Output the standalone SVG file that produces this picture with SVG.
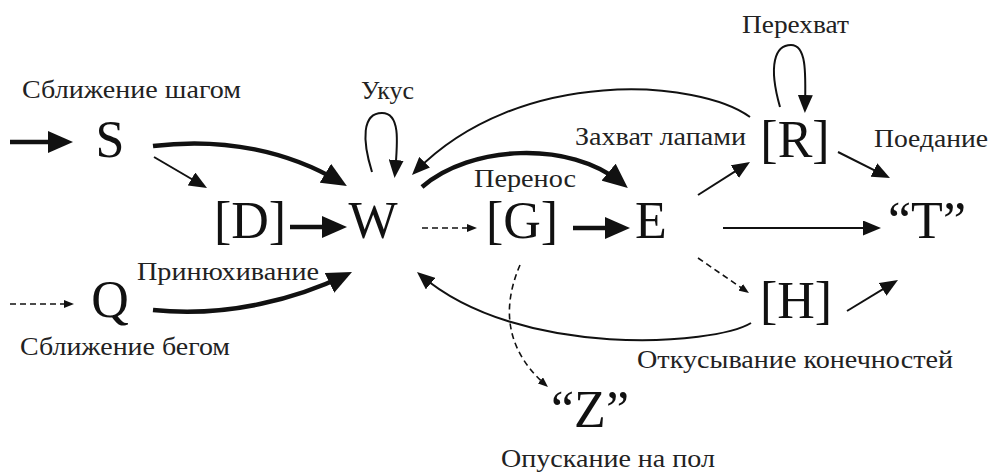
<svg xmlns="http://www.w3.org/2000/svg" width="990" height="473" viewBox="0 0 990 473">
<style>
.n{font-family:"Liberation Serif","Times New Roman",serif;font-size:52px;fill:#111;text-anchor:middle}
.l{font-family:"Liberation Serif","Times New Roman",serif;font-size:26px;fill:#222}
.thick{fill:none;stroke:#111;stroke-width:4.5}
.thin{fill:none;stroke:#111;stroke-width:2}
.dash{fill:none;stroke:#111;stroke-width:1.6;stroke-dasharray:6 4}
</style>
<defs>
<marker id="big" markerUnits="userSpaceOnUse" markerWidth="25" markerHeight="22" refX="17" refY="11" orient="auto"><path d="M0,0 L25,11 L0,22 z" fill="#111"/></marker>
<marker id="mid" markerUnits="userSpaceOnUse" markerWidth="18" markerHeight="15" refX="13" refY="7.5" orient="auto"><path d="M0,0 L18,7.5 L0,15 z" fill="#111"/></marker>
<marker id="small" markerUnits="userSpaceOnUse" markerWidth="10" markerHeight="8" refX="7" refY="4" orient="auto"><path d="M0,0 L10,4 L0,8 z" fill="#111"/></marker>
</defs>
<g id="connectors">
<path class="thick" d="M10,142 L65,142" marker-end="url(#big)"/>
<path class="thick" d="M153,146 C225,137 290,152 340,182" marker-end="url(#big)"/>
<path class="thin" d="M154,157 L202.7,185.5" marker-end="url(#mid)"/>
<path class="thick" d="M290,227 L339,227" marker-end="url(#big)"/>
<path class="thin" d="M372,172 C362,140 362,113 382,113 C400,113 398,140 395,173" marker-end="url(#mid)"/>
<path class="thin" d="M750,117 C700,80 520,65 415.5,171.4" marker-end="url(#mid)"/>
<path class="thick" d="M422,187 C470,145 570,140 621.7,183" marker-end="url(#big)"/>
<path class="dash" d="M422,228 L474,228" marker-end="url(#small)"/>
<path class="thick" d="M573,228 L622,228" marker-end="url(#big)"/>
<path class="thin" d="M698,195 L745.8,164.7" marker-end="url(#mid)"/>
<path class="thin" d="M780,107 C768,65 775,45 791,45 C806,45 806,70 805,108" marker-end="url(#mid)"/>
<path class="thin" d="M838,152 L885.5,175.8" marker-end="url(#mid)"/>
<path class="thin" d="M723,228 L876,228" marker-end="url(#mid)"/>
<path class="dash" d="M698,258 L746.5,291.3" marker-end="url(#small)"/>
<path class="thin" d="M847,311 L893.7,282.6" marker-end="url(#mid)"/>
<path class="thin" d="M751,323 C715,345 520,360 420.8,275.2" marker-end="url(#mid)"/>
<path class="dash" d="M520,265 C505,300 500,345 545.7,385" marker-end="url(#small)"/>
<path class="dash" d="M10,304 L71,304" marker-end="url(#small)"/>
<path class="thick" d="M153,310 C230,318 300,297 344.8,275.5" marker-end="url(#big)"/>
</g>
<g id="S"><text class="n" x="110" y="157">S</text></g>
<g id="D"><text class="n" x="250" y="238">[D]</text></g>
<g id="W"><text class="n" x="373" y="238">W</text></g>
<g id="G"><text class="n" x="522" y="238">[G]</text></g>
<g id="E"><text class="n" x="651" y="238">E</text></g>
<g id="R"><text class="n" x="795" y="157">[R]</text></g>
<g id="T"><text class="n" x="927" y="238">“T”</text></g>
<g id="H"><text class="n" x="796" y="318">[H]</text></g>
<g id="Q"><text class="n" x="110" y="317">Q</text></g>
<g id="Z"><text class="n" x="590" y="427">“Z”</text></g>
<g id="labels">
<text class="l" x="22" y="98" textLength="219" lengthAdjust="spacingAndGlyphs">Сближение шагом</text>
<text class="l" x="361" y="99" textLength="53" lengthAdjust="spacingAndGlyphs">Укус</text>
<text class="l" x="575" y="145" textLength="171" lengthAdjust="spacingAndGlyphs">Захват лапами</text>
<text class="l" x="474" y="187" textLength="102" lengthAdjust="spacingAndGlyphs">Перенос</text>
<text class="l" x="742" y="33" textLength="107" lengthAdjust="spacingAndGlyphs">Перехват</text>
<text class="l" x="874" y="147" textLength="114" lengthAdjust="spacingAndGlyphs">Поедание</text>
<text class="l" x="137" y="280" textLength="182" lengthAdjust="spacingAndGlyphs">Принюхивание</text>
<text class="l" x="20" y="355" textLength="210" lengthAdjust="spacingAndGlyphs">Сближение бегом</text>
<text class="l" x="637" y="368" textLength="316" lengthAdjust="spacingAndGlyphs">Откусывание конечностей</text>
<text class="l" x="501" y="467" textLength="214" lengthAdjust="spacingAndGlyphs">Опускание на пол</text>
</g>
</svg>
